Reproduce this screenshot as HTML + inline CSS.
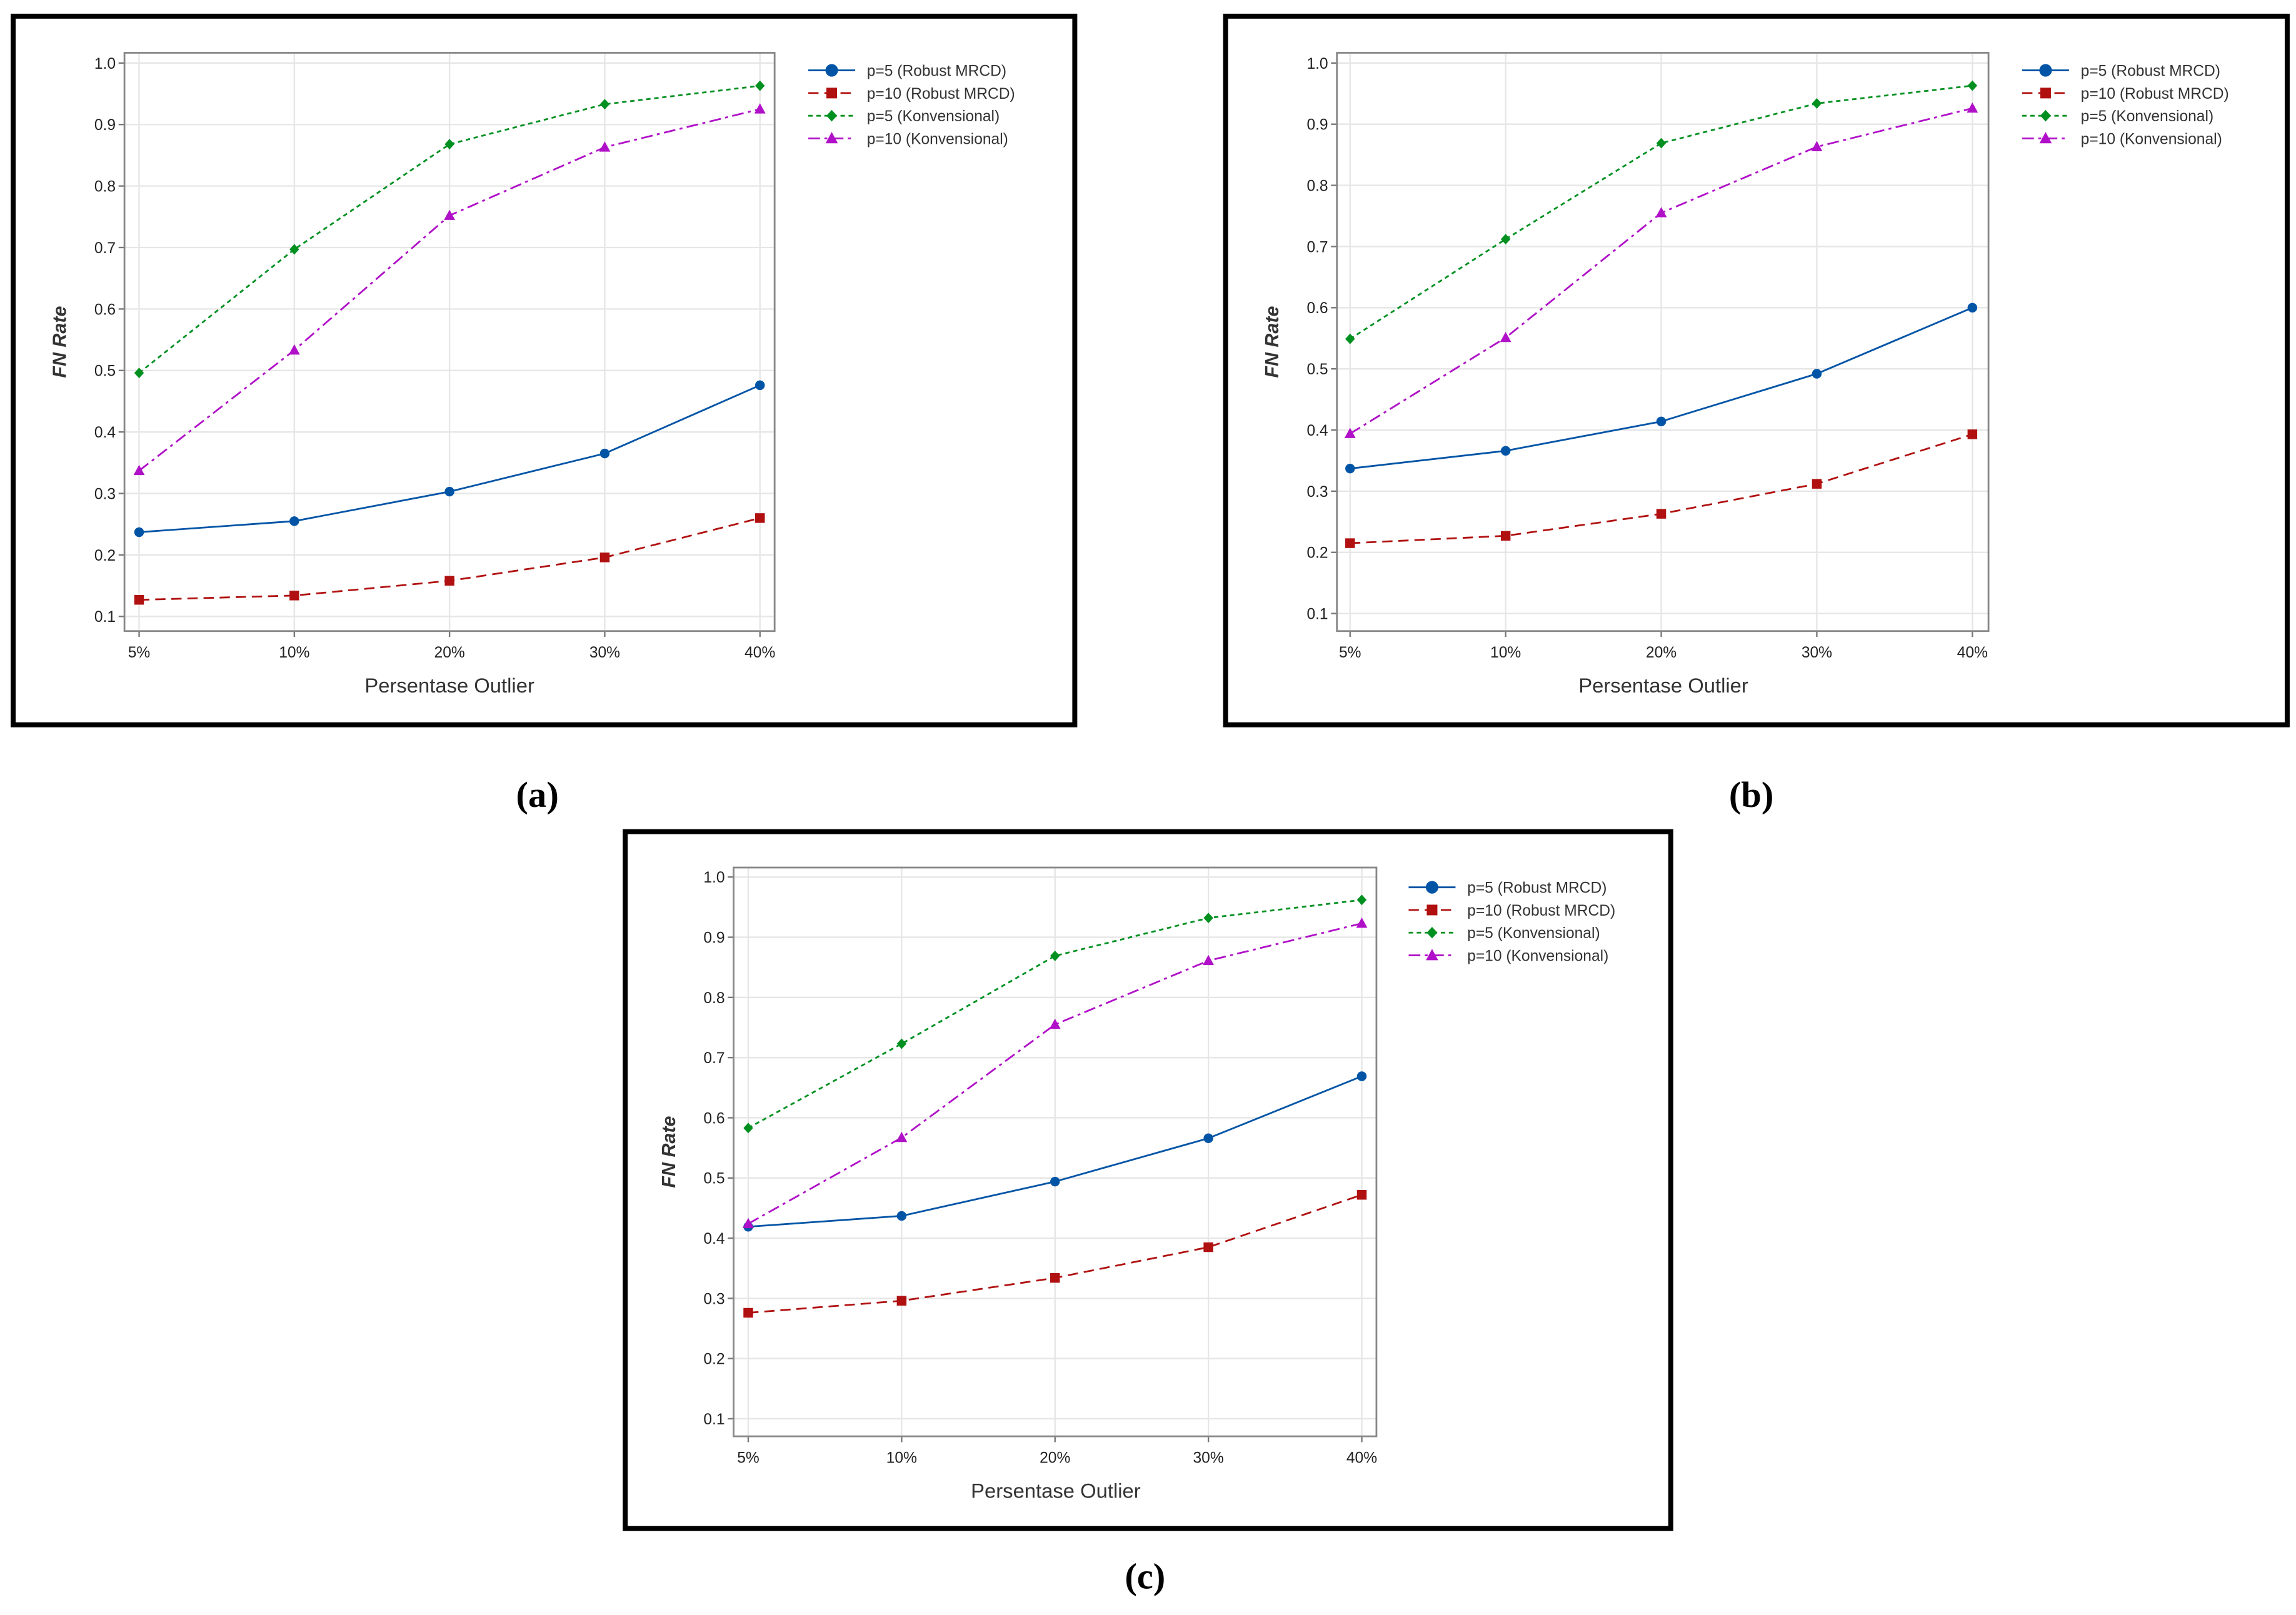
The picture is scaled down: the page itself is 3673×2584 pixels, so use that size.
<!DOCTYPE html>
<html><head><meta charset="utf-8"><style>
html,body{margin:0;padding:0;background:#fff;}
svg{display:block;}
text{font-family:"Liberation Sans",sans-serif;}
</style></head><body>
<svg id="fig" width="3673" height="2584" viewBox="0 0 1568 1103" xmlns="http://www.w3.org/2000/svg">
<rect x="0" y="0" width="1568" height="1103" fill="#fff"/>
</svg>
<script>
const categories = ["5%","10%","20%","30%","40%"];
const yTicks = [0.1,0.2,0.3,0.4,0.5,0.6,0.7,0.8,0.9,1.0];
const yTickLabels = ["0.1","0.2","0.3","0.4","0.5","0.6","0.7","0.8","0.9","1.0"];
const seriesNames = ["p=5 (Robust MRCD)","p=10 (Robust MRCD)","p=5 (Konvensional)","p=10 (Konvensional)"];
const aP5Robust = [0.237,0.255,0.303,0.365,0.476];
const aP10Robust = [0.127,0.134,0.158,0.196,0.260];
const aP5Konv = [0.496,0.697,0.868,0.933,0.963];
const aP10Konv = [0.337,0.533,0.752,0.863,0.925];
const bP5Robust = [0.337,0.366,0.414,0.492,0.600];
const bP10Robust = [0.215,0.227,0.263,0.312,0.393];
const bP5Konv = [0.549,0.712,0.869,0.934,0.963];
const bP10Konv = [0.394,0.551,0.755,0.863,0.926];
const cP5Robust = [0.419,0.437,0.494,0.566,0.669];
const cP10Robust = [0.276,0.296,0.334,0.385,0.472];
const cP5Konv = [0.583,0.723,0.869,0.932,0.962];
const cP10Konv = [0.424,0.567,0.755,0.861,0.923];
const panelLabels = ["(a)","(b)","(c)"];

const NS="http://www.w3.org/2000/svg";
const svg=document.getElementById('fig');
function mk(tag,attrs,parent){const e=document.createElementNS(NS,tag);for(const k in attrs)e.setAttribute(k,attrs[k]);(parent||svg).appendChild(e);return e;}

const styles=[
 {color:"#0054a6",dash:"",marker:"circle"},
 {color:"#b01010",dash:"7,4",marker:"square"},
 {color:"#009020",dash:"3,2.5",marker:"diamond"},
 {color:"#b010c8",dash:"8,3,2,3",marker:"triangle"}
];
const panels=[
 {frame:[9,11,725,484],plot:[85,36,529,431],y1:43,y01:421,x0:95,x4:519,leg:[552,48],title:307,cap:[367,543],data:[aP5Robust,aP10Robust,aP5Konv,aP10Konv],id:"a"},
 {frame:[837,11,725,484],plot:[913,36,1358,431],y1:43,y01:419,x0:922,x4:1347,leg:[1381,48],title:1136,cap:[1196,543],data:[bP5Robust,bP10Robust,bP5Konv,bP10Konv],id:"b"},
 {frame:[427,568,714,476],plot:[501,592.5,940,981],y1:599,y01:969,x0:511,x4:930,leg:[962,606],title:721,cap:[782,1077],data:[cP5Robust,cP10Robust,cP5Konv,cP10Konv],id:"c"}
];

function marker(g,type,x,y,color,s){
 let e;
 if(type==="circle") e=mk('circle',{cx:x,cy:y,r:3.3*s,fill:color},g);
 else if(type==="square") e=mk('rect',{x:x-3.3*s,y:y-3.3*s,width:6.6*s,height:6.6*s,fill:color},g);
 else if(type==="diamond") e=mk('polygon',{points:`${x},${y-3.6*s} ${x+3.3*s},${y} ${x},${y+3.6*s} ${x-3.3*s},${y}`,fill:color},g);
 else e=mk('polygon',{points:`${x},${y-4*s} ${x+3.8*s},${y+3*s} ${x-3.8*s},${y+3*s}`,fill:color},g);
 return e;
}

panels.forEach((P,pi)=>{
 const g=mk('g',{});
 
 
 const [fx,fy,fw,fh]=P.frame;
 const fr=mk('rect',{x:fx,y:fy,width:fw,height:fh,fill:"none",stroke:"#000","stroke-width":3.4},g);
 
 
 const [l,t,r,b]=P.plot;
 const yS=v=>P.y01+(v-0.1)*(P.y1-P.y01)/0.9;
 const xS=i=>P.x0+i*(P.x4-P.x0)/(categories.length-1);
 yTicks.forEach((v,i)=>{
  const ln=mk('line',{x1:l,x2:r,y1:yS(v),y2:yS(v),stroke:"#e6e6e6","stroke-width":1},g);
  
  
  mk('line',{x1:l-4,x2:l,y1:yS(v),y2:yS(v),stroke:"#777","stroke-width":1},g);
  const tx=mk('text',{x:l-6,y:yS(v)+3.8,"text-anchor":"end","font-size":10.5,fill:"#222"},g);
  tx.textContent=yTickLabels[i];
  
  
 });
 categories.forEach((c,i)=>{
  const ln=mk('line',{x1:xS(i),x2:xS(i),y1:t,y2:b,stroke:"#e6e6e6","stroke-width":1},g);
  
  
  mk('line',{x1:xS(i),x2:xS(i),y1:b,y2:b+4,stroke:"#777","stroke-width":1},g);
  const tx=mk('text',{x:xS(i),y:b+18,"text-anchor":"middle","font-size":10.5,fill:"#222"},g);
  tx.textContent=c;
  
  
 });
 const pa=mk('rect',{x:l,y:t,width:r-l,height:b-t,fill:"none",stroke:"#888","stroke-width":1.2},g);
 
 
 P.data.forEach((arr,si)=>{
  const st=styles[si];
  const sg=mk('g',{},g);
  
  
  const pts=arr.map((v,i)=>xS(i)+","+yS(v)).join(" ");
  const pl=mk('polyline',{points:pts,fill:"none",stroke:st.color,"stroke-width":1.2,"stroke-dasharray":st.dash},sg);
  
  
  arr.forEach((v,i)=>{
   const m=marker(sg,st.marker,xS(i),yS(v),st.color,1);
   
   
  });
 });
 const lg=mk('g',{},g);
 
 
 seriesNames.forEach((n,si)=>{
  const st=styles[si];
  const ly=P.leg[1]+si*15.5;
  const e=mk('g',{},lg);
  
  
  mk('line',{x1:P.leg[0],x2:P.leg[0]+32,y1:ly,y2:ly,stroke:st.color,"stroke-width":1.2,"stroke-dasharray":st.dash},e);
  marker(e,st.marker,P.leg[0]+16,ly,st.color,si===0?1.3:1.1);
  const tx=mk('text',{x:P.leg[0]+40,y:ly+3.8,"font-size":10.5,fill:"#333"},e);
  tx.textContent=n;
 });
 const xt=mk('text',{x:P.title,y:b+42,"text-anchor":"middle","font-size":14,fill:"#333"},g);
 xt.textContent="Persentase Outlier";
 
 
 const ycx=l-40, ycy=(t+b)/2;
 const yt=mk('text',{x:ycx,y:ycy,"text-anchor":"middle","font-size":13,"font-style":"italic","font-weight":"bold",fill:"#333",transform:`rotate(-90 ${ycx} ${ycy})`},g);
 yt.textContent="FN Rate";
 
 
 const cp=mk('text',{x:P.cap[0],y:P.cap[1]+8,"text-anchor":"middle","font-size":25,"font-weight":"bold",fill:"#000",style:"font-family:'Liberation Serif',serif"},svg);
 cp.textContent=panelLabels[pi];
 
 
});
</script>
</body></html>
